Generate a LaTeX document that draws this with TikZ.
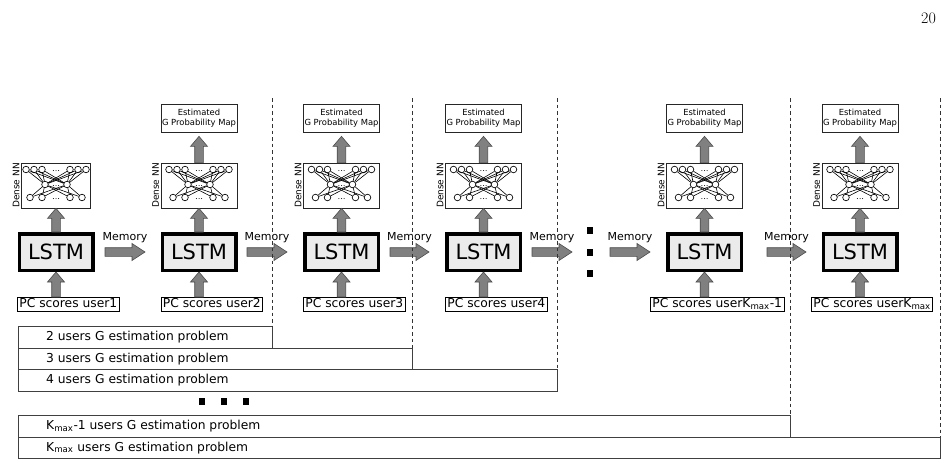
\documentclass[tikz,border=0pt]{standalone}
\usepackage{fontspec}
\newfontfamily\dv{DejaVu Sans}
\usetikzlibrary{calc}
\tikzset{
  barrow/.style={draw=black!70, fill=black!50, line width=0.6pt,
    to path={let \p1=(\tikztostart), \p2=(\tikztotarget), \p3=($(\p2)!#1!(\p1)$) in
      ($(\p1)!4.3pt!90:(\p2)$) -- ($(\p3)!4.3pt!90:(\p2)$) -- ($(\p3)!8.5pt!90:(\p2)$) -- (\p2)
      -- ($(\p3)!8.5pt!-90:(\p2)$) -- ($(\p3)!4.3pt!-90:(\p2)$) -- ($(\p1)!4.3pt!-90:(\p2)$) -- cycle}},
  barrow/.default=10pt,
  lstmbox/.style={draw=black, line width=3.5pt, fill=black!8, minimum width=73.5pt,
    minimum height=36.5pt, inner sep=0pt, font=\dv\fontsize{21}{25}\selectfont},
  densebox/.style={draw=black!85, line width=0.7pt, fill=white, minimum width=76pt,
    minimum height=45pt, inner sep=0pt},
  estbox/.style={draw=black!85, line width=0.7pt, fill=white, minimum width=76pt,
    minimum height=28pt, inner sep=0pt, align=center, font=\dv\fontsize{8.4}{10.2}\selectfont},
  pcbox/.style={draw=black, line width=0.7pt, fill=white, inner xsep=2pt, inner ysep=1pt,
    text height=9.2pt, text depth=2.6pt, font=\dv\fontsize{12.3}{14}\selectfont, anchor=north west},
  dnnlab/.style={rotate=90, anchor=south, inner sep=1.5pt, font=\dv\fontsize{9}{11}\selectfont},
  memlab/.style={font=\dv\fontsize{11}{13}\selectfont, inner sep=0pt, anchor=base},
  bar/.style={draw=black!75, line width=0.7pt, fill=white, anchor=north west, inner sep=0pt},
  bartext/.style={font=\dv\fontsize{12.3}{14}\selectfont, anchor=base west, inner sep=0pt},
  dashline/.style={draw=black!80, line width=0.7pt, dash pattern=on 3.5pt off 3pt},
  sq/.style={fill=black, minimum width=6.5pt, minimum height=7pt, inner sep=0pt},
  nn/.style={circle, draw=black, line width=0.65pt, fill=white, minimum size=6.6pt, inner sep=0pt},
  nnline/.style={draw=black, line width=0.6pt},
  pics/densenet/.style={code={
    \foreach \i/\x in {1/-30,2/-22,3/-14,4/14,5/22,6/30} \node[nn] (-t\i) at (\x,-16) {};
    \foreach \i/\x in {1/-11,2/11} \node[nn] (-m\i) at (\x,-1) {};
    \foreach \i/\x in {1/-26,2/-14,3/14,4/26} \node[nn] (-b\i) at (\x,12) {};
    \foreach \i in {1,...,6} \foreach \j in {1,2} \draw[nnline] (-t\i) -- (-m\j);
    \foreach \j in {1,2} \foreach \k in {1,...,4} \draw[nnline] (-m\j) -- (-b\k);
    \foreach \y in {-15,0,13} \foreach \x in {-2.6,0,2.6} \fill (\x,\y) circle (0.5pt);
  }},
}
\begin{document}
\begin{tikzpicture}[x=1pt,y=-1pt]
\useasboundingbox (0,0) rectangle (946,463);
\node[font=\fontsize{16}{18}\selectfont, inner sep=0pt] (pg) at (928.5,18.5) {20};

% LSTM cells
\node[lstmbox] (L1) at (56,252) {LSTM};
\node[lstmbox] (L2) at (199,252) {LSTM};
\node[lstmbox] (L3) at (341.5,252) {LSTM};
\node[lstmbox] (L4) at (483.5,252) {LSTM};
\node[lstmbox] (L5) at (704.5,252) {LSTM};
\node[lstmbox] (L6) at (860,252) {LSTM};

% Dense NN boxes
\node[densebox, minimum width=69pt] (D1) at (56,185.5) {};
\node[densebox] (D2) at (199,185.5) {};
\node[densebox] (D3) at (341.5,185.5) {};
\node[densebox] (D4) at (483.5,185.5) {};
\node[densebox] (D5) at (704.5,185.5) {};
\node[densebox] (D6) at (860,185.5) {};
\foreach \k in {1,...,6} {
  \pic (N\k) at (D\k) {densenet};
  \node[dnnlab] (DL\k) at (D\k.west) {Dense NN};
}

% Estimated maps
\node[estbox] (E2) at (199,118.5) {Estimated\\G Probability Map};
\node[estbox] (E3) at (341.5,118.5) {Estimated\\G Probability Map};
\node[estbox] (E4) at (483.5,118.5) {Estimated\\G Probability Map};
\node[estbox] (E5) at (704.5,118.5) {Estimated\\G Probability Map};
\node[estbox] (E6) at (860,118.5) {Estimated\\G Probability Map};

% PC score inputs
\node[pcbox] (P1) at (17,297) {PC scores user1};
\node[pcbox] (P2) at (160.5,297) {PC scores user2};
\node[pcbox] (P3) at (303,297) {PC scores user3};
\node[pcbox] (P4) at (445,297) {PC scores user4};
\node[pcbox] (P5) at (650,297) {PC scores userK\textsubscript{max}-1};
\node[pcbox] (P6) at (811,297) {PC scores userK\textsubscript{max}};

% vertical arrows
\foreach \k in {1,...,6} {
  \draw[barrow] (L\k.south |- P\k.north) to (L\k.south);
  \draw[barrow] (L\k.north) to (D\k.south);
}
\foreach \k in {2,...,6} {
  \draw[barrow] (D\k.north) to ($(E\k.south)+(0,3.5)$);
}

% memory arrows
\coordinate (ms1) at (105,252); \coordinate (me1) at (145,252);
\coordinate (ms2) at (247,252); \coordinate (me2) at (287,252);
\coordinate (ms3) at (390,252); \coordinate (me3) at (429,252);
\coordinate (ms4) at (532,252); \coordinate (me4) at (572,252);
\coordinate (ms5) at (610,252); \coordinate (me5) at (650,252);
\coordinate (ms6) at (767,252); \coordinate (me6) at (806,252);
\foreach \k in {1,...,6} {
  \draw[barrow=13pt] (ms\k) to (me\k);
  \node[memlab] (ML\k) at ($(ms\k)!0.5!(me\k)+(0,-12)$) {Memory};
}

% vertical dots
\node[sq] (v1) at (590,230) {};
\node[sq] (v2) at (590,252) {};
\node[sq] (v3) at (590,273) {};

% problem bars
\node[bar, minimum width=254pt, minimum height=21.5pt] (b2) at (18,326) {};
\node[bar, minimum width=394pt, minimum height=21.5pt] (b3) at (18,347.5) {};
\node[bar, minimum width=539pt, minimum height=21.5pt] (b4) at (18,369) {};
\node[bar, minimum width=772pt, minimum height=21.5pt] (bK1) at (18,415) {};
\node[bar, minimum width=922pt, minimum height=21.5pt] (bK) at (18,436.5) {};
\node[bartext] (t2) at ($(b2.north west)+(28,14.5)$) {2 users G estimation problem};
\node[bartext] (t3) at ($(b3.north west)+(28,14.5)$) {3 users G estimation problem};
\node[bartext] (t4) at ($(b4.north west)+(28,14.5)$) {4 users G estimation problem};
\node[bartext] (tK1) at ($(bK1.north west)+(28,14.5)$) {K\textsubscript{max}-1 users G estimation problem};
\node[bartext] (tK) at ($(bK.north west)+(28,14.5)$) {K\textsubscript{max} users G estimation problem};

% horizontal dots
\node[sq] (h1) at (202,401.5) {};
\node[sq] (h2) at (224,401.5) {};
\node[sq] (h3) at (246,401.5) {};

% dashed separators
\coordinate (d2) at (b2.north east |- 0,98);
\coordinate (d3) at (b3.north east |- 0,98);
\coordinate (d4) at (b4.north east |- 0,98);
\coordinate (dK1) at (bK1.north east |- 0,98);
\coordinate (dK) at (bK.north east |- 0,98);
\draw[dashline] (d2) -- (b2.north east);
\draw[dashline] (d3) -- (b3.north east);
\draw[dashline] (d4) -- (b4.north east);
\draw[dashline] (dK1) -- (bK1.north east);
\draw[dashline] (dK) -- (bK.north east);
\end{tikzpicture}
\end{document}
